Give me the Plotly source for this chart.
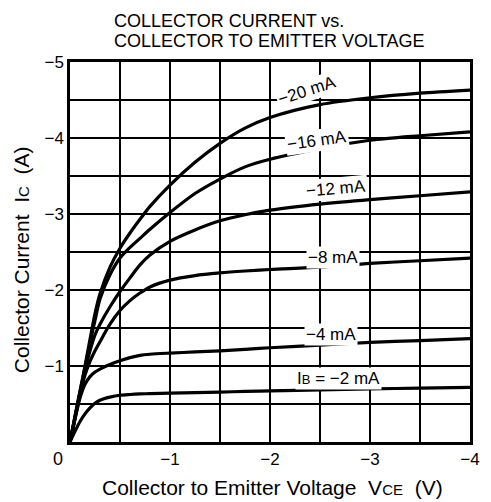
import plotly.graph_objects as go

vce = [0, -0.05, -0.1, -0.15, -0.2, -0.25, -0.3, -0.4, -0.5, -0.6, -0.7, -0.8,
       -1.0, -1.25, -1.5, -1.75, -2.0, -2.5, -3.0, -3.5, -4.0]

ic_2 = [0, -0.14, -0.27, -0.37, -0.45, -0.51, -0.55, -0.59, -0.615, -0.625, -0.632, -0.637,
        -0.643, -0.65, -0.657, -0.665, -0.672, -0.685, -0.698, -0.71, -0.72]
ic_4 = [0, -0.3, -0.58, -0.76, -0.86, -0.92, -0.96, -1.02, -1.07, -1.11, -1.14, -1.155,
        -1.17, -1.185, -1.2, -1.22, -1.24, -1.275, -1.31, -1.335, -1.36]
ic_8 = [0, -0.31, -0.62, -0.88, -1.06, -1.2, -1.32, -1.55, -1.73, -1.86, -1.96, -2.04,
        -2.13, -2.19, -2.225, -2.25, -2.27, -2.30, -2.35, -2.385, -2.42]
ic_12 = [0, -0.32, -0.64, -0.94, -1.2, -1.41, -1.55, -1.78, -1.98, -2.16, -2.33, -2.46,
         -2.64, -2.79, -2.91, -2.99, -3.05, -3.13, -3.19, -3.24, -3.29]
ic_16 = [0, -0.33, -0.66, -0.98, -1.3, -1.6, -1.88, -2.2, -2.42, -2.56, -2.68, -2.8,
         -3.02, -3.27, -3.46, -3.62, -3.72, -3.86, -3.97, -4.03, -4.08]
ic_20 = [0, -0.34, -0.67, -1.0, -1.35, -1.69, -1.95, -2.3, -2.55, -2.75, -2.93, -3.1,
         -3.38, -3.68, -3.93, -4.13, -4.27, -4.44, -4.53, -4.59, -4.63]

curves = [ic_2, ic_4, ic_8, ic_12, ic_16, ic_20]

label_text = ["I<span style='font-size:13px'>B</span> = \u22122 mA", "\u22124 mA", "\u22128 mA",
              "\u221212 mA", "\u221216 mA", "\u221220 mA"]
label_x = [-2.68, -2.61, -2.63, -2.66, -2.47, -2.37]
label_y = [-0.83, -1.42, -2.43, -3.34, -3.97, -4.63]
label_angle = [0, 0, 0, -5, -8, -18]

x_ticks = [0, -0.5, -1, -1.5, -2, -2.5, -3, -3.5, -4]
x_ticktext = ["", "", "\u22121", "", "\u22122", "", "\u22123", "", "\u22124"]
y_ticks = [0, -0.5, -1, -1.5, -2, -2.5, -3, -3.5, -4, -4.5, -5]
y_ticktext = ["", "", "\u22121", "", "\u22122", "", "\u22123", "", "\u22124", "", "\u22125"]

title_lines = ["COLLECTOR CURRENT vs.", "COLLECTOR TO EMITTER VOLTAGE"]

FONT = "Liberation Sans, Arial, sans-serif"

fig = go.Figure()
for ys in curves:
    fig.add_trace(go.Scatter(x=vce, y=ys, mode="lines",
                             line=dict(color="black", width=3.2, shape="spline", smoothing=0.8),
                             showlegend=False, hoverinfo="skip"))

annotations = []
for t, lx, ly, ang in zip(label_text, label_x, label_y, label_angle):
    annotations.append(dict(x=lx, y=ly, xref="x", yref="y", text=t, showarrow=False,
                            textangle=ang, bgcolor="white", borderpad=1,
                            font=dict(family=FONT, size=17, color="black")))

annotations.append(dict(x=0, y=0, xref="x", yref="y", text="0", showarrow=False,
                        xanchor="right", yanchor="top", xshift=-5, yshift=-5,
                        font=dict(family=FONT, size=18, color="black")))
annotations.append(dict(x=-0.1195, y=0.479, xref="paper", yref="paper",
                        text="Collector Current  I<span style='font-size:15px'>C</span>  (A)",
                        textangle=-90, showarrow=False, xanchor="center", yanchor="middle",
                        font=dict(family=FONT, size=21, color="black")))
annotations.append(dict(x=0.505, y=-0.121, xref="paper", yref="paper",
                        text="Collector to Emitter Voltage  V<span style='font-size:15px'>CE</span>  (V)",
                        showarrow=False, xanchor="center", yanchor="middle",
                        font=dict(family=FONT, size=21, color="black")))
for line, py in zip(title_lines, [1.108, 1.055]):
    annotations.append(dict(x=0.105, y=py, xref="paper", yref="paper", yanchor="middle",
                            xanchor="left", showarrow=False, text=line,
                            font=dict(family=FONT, size=18, color="black")))

# The page body has an 8px default margin, so the figure is sized to fit the window.
fig.update_layout(
    width=483, height=494,
    margin=dict(l=62, r=11, t=54, b=60),
    paper_bgcolor="white", plot_bgcolor="white",
    annotations=annotations,
    font=dict(family=FONT, color="black"),
)
fig.update_xaxes(range=[0, -4], tickvals=x_ticks, ticktext=x_ticktext,
                 showgrid=True, gridcolor="black", gridwidth=1.5,
                 showline=True, linecolor="black", linewidth=2.5, mirror=True,
                 ticks="", ticklen=0, zeroline=False,
                 tickfont=dict(family=FONT, size=17, color="black"))
fig.update_yaxes(range=[0, -5], tickvals=y_ticks, ticktext=y_ticktext,
                 showgrid=True, gridcolor="black", gridwidth=1.5,
                 showline=True, linecolor="black", linewidth=2.5, mirror=True,
                 ticks="", ticklen=0, zeroline=False,
                 tickfont=dict(family=FONT, size=17, color="black"))

fig.write_html("out.html")
